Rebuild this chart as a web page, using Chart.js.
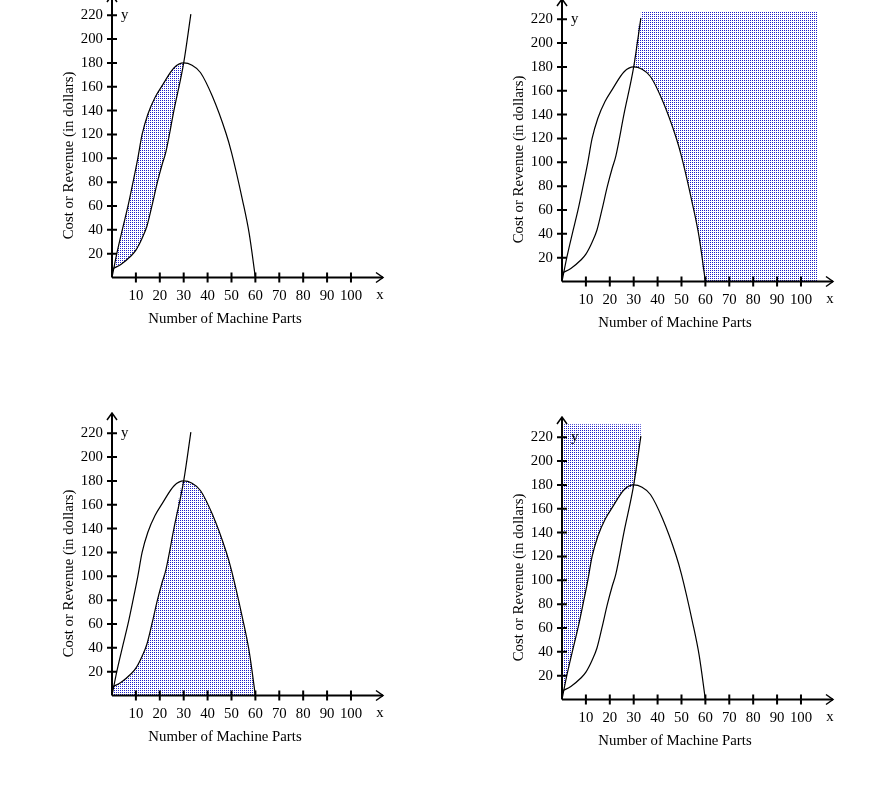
<!DOCTYPE html>
<html>
<head>
<meta charset="utf-8">
<title>Cost and Revenue</title>
<script src="https://cdn.jsdelivr.net/npm/chart.js"></script>
<style>
  html, body { margin: 0; padding: 0; background: #fff; }
  #page { position: relative; width: 886px; height: 799px; overflow: hidden; }
  #page canvas { position: absolute; }
</style>
</head>
<body>
<div id="page">
  <canvas id="chartA" width="436" height="383" style="left:0px;top:-6px"></canvas>
  <canvas id="chartB" width="436" height="383" style="left:450px;top:-2px"></canvas>
  <canvas id="chartC" width="436" height="383" style="left:0px;top:412px"></canvas>
  <canvas id="chartD" width="436" height="383" style="left:450px;top:416px"></canvas>
</div>
<script>
// values
const revenueParts   = [0, 2, 4.3, 6.7, 8.8, 10.8, 12.6, 15, 18, 21, 26, 30, 33.5, 37, 42, 47.7, 50, 54.6, 57.4, 60];
const revenueDollars = [0, 20, 40, 60, 80, 100, 120, 137, 151, 161, 176, 180, 178, 172, 152, 121, 105, 65, 37, 0];
const costParts   = [0, 3.7, 7.9, 10, 12.6, 14.6, 16.7, 19, 21, 22.5, 26, 30, 33];
const costDollars = [7, 11, 18, 23, 33, 43, 60, 80, 95, 105, 141, 180, 221];

const xTicks = [10, 20, 30, 40, 50, 60, 70, 80, 90, 100];
const yTicks = [20, 40, 60, 80, 100, 120, 140, 160, 180, 200, 220];

const breakEven = 30;   // x where the two curves cross
const lossTop = 227;    // top edge of the shading, panel 2
const lossRight = 107;  // right edge of the shading, panel 2
const aboveTop = 231;   // top edge of the shading, panel 4

const serif = '"Liberation Serif", "Times New Roman", serif';
const tickFont = { family: serif, size: 14.8 };

const pts = (xs, ys) => xs.map((x, i) => ({ x: x, y: ys[i] }));
const revenue = pts(revenueParts, revenueDollars);
const cost = pts(costParts, costDollars);
const lastCost = cost[cost.length - 1];

// dotted blue shading like the original halftone
const dotCanvas = document.createElement('canvas');
dotCanvas.width = 2;
dotCanvas.height = 2;
const dc = dotCanvas.getContext('2d');
dc.fillStyle = '#2020c8';
dc.fillRect(0, 0, 1, 1);
const dots = dc.createPattern(dotCanvas, 'repeat');

// axes with arrows, crossing tick marks, titles
const axesPlugin = {
    id: 'axesDecor',
    afterDraw(chart) {
        const { ctx, scales: { x, y } } = chart;
        const x0 = x.getPixelForValue(0);
        const y0 = y.getPixelForValue(0);
        const xEnd = x.getPixelForValue(x.max);
        const yEnd = y.getPixelForValue(y.max);
        ctx.save();
        ctx.strokeStyle = '#000';
        ctx.lineWidth = 2;
        ctx.beginPath();
        ctx.moveTo(x0, y0); ctx.lineTo(xEnd, y0);
        ctx.moveTo(x0, y0); ctx.lineTo(x0, yEnd);
        xTicks.forEach(v => {
            const p = x.getPixelForValue(v);
            ctx.moveTo(p, y0 - 5); ctx.lineTo(p, y0 + 5);
        });
        yTicks.forEach(v => {
            const p = y.getPixelForValue(v);
            ctx.moveTo(x0 - 5, p); ctx.lineTo(x0 + 5, p);
        });
        ctx.stroke();

        ctx.lineWidth = 1.5;
        ctx.beginPath();
        ctx.moveTo(xEnd - 7, y0 - 5); ctx.lineTo(xEnd, y0); ctx.lineTo(xEnd - 7, y0 + 5);
        ctx.moveTo(x0 - 5, yEnd + 7); ctx.lineTo(x0, yEnd); ctx.lineTo(x0 + 5, yEnd + 7);
        ctx.stroke();

        ctx.fillStyle = '#000';
        ctx.font = '14.8px ' + serif;
        ctx.textBaseline = 'alphabetic';
        ctx.textAlign = 'left';
        ctx.fillText('y', x0 + 9, y.getPixelForValue(220) + 4);
        ctx.textAlign = 'center';
        ctx.fillText('x', xEnd - 3, y0 + 21);
        ctx.fillText('Number of Machine Parts', x0 + 113, y0 + 45);
        ctx.translate(x0 - 39.5, y0 - 122);
        ctx.rotate(-Math.PI / 2);
        ctx.fillText('Cost or Revenue (in dollars)', 0, 0);
        ctx.restore();
    }
};

function lineSet(data) {
    return { data: data, showLine: true, cubicInterpolationMode: 'monotone', borderColor: '#000', borderWidth: 1.2, pointRadius: 0, fill: false };
}

function shadeSet(data, fill) {
    return { data: data, showLine: true, cubicInterpolationMode: 'monotone', borderColor: 'transparent', borderWidth: 0, pointRadius: 0, backgroundColor: dots, fill: fill };
}

function drawPanel(id, lower, upper, upperFill) {
    const ctx = document.getElementById(id).getContext('2d');
    const datasets = [lineSet(revenue), lineSet(cost)];
    if (lower) {
        datasets.push(shadeSet(lower, false));
    }
    datasets.push(shadeSet(upper, upperFill));
    new Chart(ctx, {
        type: 'scatter',
        data: { datasets: datasets },
        options: {
            responsive: false,
            animation: false,
            layout: { padding: { top: 1, right: 53, bottom: 0, left: 0 } },
            plugins: { legend: { display: false }, tooltip: { enabled: false } },
            scales: {
                x: {
                    type: 'linear', min: 0, max: 113.4,
                    afterFit: s => { s.height = 99.5; s.paddingLeft = 0; s.paddingRight = 0; },
                    afterBuildTicks: s => { s.ticks = xTicks.map(v => ({ value: v })); },
                    grid: { display: false, drawTicks: false },
                    border: { display: false },
                    ticks: { autoSkip: false, maxRotation: 0, padding: 10, color: '#000', font: tickFont }
                },
                y: {
                    type: 'linear', min: 0, max: 237,
                    afterFit: s => { s.width = 112; s.paddingTop = 0; s.paddingBottom = 0; },
                    afterBuildTicks: s => { s.ticks = yTicks.map(v => ({ value: v })); },
                    grid: { display: false, drawTicks: false },
                    border: { display: false },
                    ticks: { autoSkip: false, padding: 9, color: '#000', font: tickFont }
                }
            }
        },
        plugins: [axesPlugin]
    });
}

const before = p => p.x <= breakEven;
const after = p => p.x >= breakEven;

// 1: between the curves while revenue is above cost
drawPanel('chartA', cost.filter(before), revenue.filter(before), '-1');

// 2: right of the cost curve and above the revenue curve
drawPanel('chartB',
    revenue.filter(after).concat([{ x: lossRight, y: 0 }]),
    cost.filter(after).concat([{ x: lastCost.x, y: lossTop }, { x: lossRight, y: lossTop }]),
    '-1');

// 3: under both curves
drawPanel('chartC', null,
    cost.filter(p => p.x < breakEven).concat(revenue.filter(after)),
    { value: 0 });

// 4: above both curves
drawPanel('chartD',
    revenue.filter(p => p.x < breakEven).concat(cost.filter(after)),
    [{ x: 0, y: aboveTop }, { x: lastCost.x, y: aboveTop }],
    '-1');
</script>
</body>
</html>
